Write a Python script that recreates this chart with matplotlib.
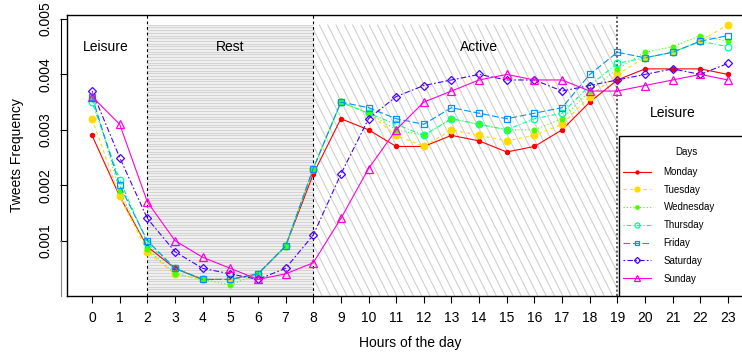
import numpy as np
import matplotlib
matplotlib.use("Agg")
import matplotlib.pyplot as plt
from matplotlib.patches import Rectangle
from matplotlib.collections import LineCollection

plt.rcParams['font.family'] = ['Liberation Sans', 'DejaVu Sans']

# tweet frequency per hour, one list per weekday
hours = list(range(24))
days = ["Monday", "Tuesday", "Wednesday", "Thursday", "Friday", "Saturday", "Sunday"]
monday = [0.0029, 0.0018, 0.00089, 0.0005, 0.0003, 0.0003, 0.0004, 0.0009, 0.0022, 0.0032,
          0.0030, 0.0027, 0.0027, 0.0029, 0.0028, 0.0026, 0.0027, 0.0030, 0.0035, 0.0039,
          0.0041, 0.0041, 0.0041, 0.0040]
tuesday = [0.0032, 0.0018, 0.0008, 0.0004, 0.0003, 0.0003, 0.0004, 0.0009, 0.0023, 0.0035,
           0.0033, 0.0029, 0.0027, 0.0030, 0.0029, 0.0028, 0.0029, 0.0031, 0.0036, 0.0040,
           0.0043, 0.0044, 0.0046, 0.0049]
wednesday = [0.0036, 0.0019, 0.00085, 0.0004, 0.0003, 0.0002, 0.0004, 0.0009, 0.0023, 0.0035,
             0.0033, 0.0030, 0.0029, 0.0032, 0.0031, 0.0030, 0.0030, 0.0032, 0.0037, 0.0041,
             0.0044, 0.0045, 0.0047, 0.0046]
thursday = [0.0035, 0.0021, 0.00095, 0.0005, 0.0003, 0.0003, 0.0004, 0.0009, 0.0023, 0.0035,
            0.0033, 0.0031, 0.0029, 0.0032, 0.0031, 0.0030, 0.0032, 0.0033, 0.0038, 0.0042,
            0.0043, 0.0044, 0.0046, 0.0045]
friday = [0.0036, 0.0020, 0.0010, 0.0005, 0.0003, 0.0003, 0.0004, 0.0009, 0.0023, 0.0035,
          0.0034, 0.0032, 0.0031, 0.0034, 0.0033, 0.0032, 0.0033, 0.0034, 0.0040, 0.0044,
          0.0043, 0.0044, 0.0046, 0.0047]
saturday = [0.0037, 0.0025, 0.0014, 0.0008, 0.0005, 0.0004, 0.0003, 0.0005, 0.0011, 0.0022,
            0.0032, 0.0036, 0.0038, 0.0039, 0.0040, 0.0039, 0.0039, 0.0037, 0.0038, 0.0039,
            0.0040, 0.0041, 0.0040, 0.0042]
sunday = [0.0036, 0.0031, 0.0017, 0.0010, 0.0007, 0.0005, 0.0003, 0.0004, 0.0006, 0.0014,
          0.0023, 0.0030, 0.0035, 0.0037, 0.0039, 0.0040, 0.0039, 0.0039, 0.0037, 0.0037,
          0.0038, 0.0039, 0.0040, 0.0039]
series = [monday, tuesday, wednesday, thursday, friday, saturday, sunday]

# periods of the day
rest = (2, 8)
active = (8, 19)
band_top = 0.0049

# R style rainbow(7) palette, line types and point symbols
colors = ["#FF0000", "#FFDB00", "#49FF00", "#00FF92", "#0092FF", "#4900FF", "#FF00DB"]
styles = ["-", (0, (3, 3)), (0, (1, 2)), (0, (1, 2, 4, 2)), (0, (6, 2.5)), (0, (1.5, 2, 5, 2)), "-"]
markers = ["o", "o", "o", "o", "s", "D", "^"]
msizes = [3.0, 4.8, 3.4, 4.8, 4.4, 4.2, 5.6]
filled = [True, True, True, False, False, False, False]

W, H = 742, 359
fig = plt.figure(figsize=(W / 100, H / 100), dpi=100)
ax_l, ax_r, ax_t, ax_b = 66.6, 753.4, 14.7, 295.7
ax = fig.add_axes([ax_l / W, 1 - ax_b / H, (ax_r - ax_l) / W, (ax_b - ax_t) / H])
ylo, yhi = 0.0000063, 0.005078
ax.set_xlim(-0.92, 23.92)
ax.set_ylim(ylo, yhi)

# rest band: light fill with dense horizontal grey lines
px_per_y = (ax_b - ax_t) / (yhi - ylo)
ax.add_patch(Rectangle((rest[0], ylo), rest[1] - rest[0], band_top - ylo,
                       facecolor="#f0f0f0", lw=0, zorder=0.5))
ys = np.arange(ylo + 1.0 / px_per_y, band_top, 2.7 / px_per_y)
ax.hlines(ys, rest[0], rest[1], colors="#d4d4d4", lw=0.75, zorder=1)

# active band: steep diagonal hatching, built and clipped in pixel space
(X0, Y0), (X1, Y1) = ax.transData.transform([(active[0], ylo), (active[1], band_top)])
slope, step = 2.0, 8.3
segs = []
for b in np.arange(slope * X0 + Y0 + 1, slope * X1 + Y1, slope * step):
    xa, ya = (b - Y1) / slope, Y1
    xb, yb = (b - Y0) / slope, Y0
    if xa < X0:
        xa, ya = X0, b - slope * X0
    if xb > X1:
        xb, yb = X1, b - slope * X1
    if xb <= xa:
        continue
    segs.append(ax.transData.inverted().transform([(xa, ya), (xb, yb)]))
ax.add_collection(LineCollection(segs, colors="#cdcdcd", linewidths=0.75, zorder=1))

# period borders
for x in (2, 8):
    ax.axvline(x, color="black", lw=0.8, ls=(0, (2.5, 2.5)), zorder=2)
ax.axvline(19, color="#555555", lw=1.3, ls=(0, (1.2, 1.2)), zorder=2)

# weekday curves
for d, vals, c, ls, m, ms, f in zip(days, series, colors, styles, markers, msizes, filled):
    ax.plot(hours, vals, color=c, lw=0.8, ls=ls, marker=m, ms=ms,
            mfc=c if f else "none", mec=c, mew=0.9, label=d, zorder=3)

# period names
ax.text(0.5, 0.0045, "Leisure", ha="center", va="center", fontsize=10)
ax.text(5, 0.0045, "Rest", ha="center", va="center", fontsize=10)
ax.text(14, 0.0045, "Active", ha="center", va="center", fontsize=10)
ax.text(21, 0.0033, "Leisure", ha="center", va="center", fontsize=10)

# legend box
ax.add_patch(Rectangle((19.05, ylo), 6, 0.00289 - ylo, facecolor="white",
                       edgecolor="black", lw=1, zorder=4))
ax_w = ax_r - ax_l
leg = ax.legend(title="Days", loc="upper left", frameon=False, fontsize=7,
                title_fontsize=7, mode="expand", borderpad=0, borderaxespad=0,
                bbox_to_anchor=((622.7 - ax_l) / ax_w, (ax_b - 150) / (ax_b - ax_t),
                                126.6 / ax_w, 0.01),
                handlelength=2.9, handletextpad=1.3, labelspacing=0.80, markerscale=0.75)
leg.set_zorder(5)
leg._legend_box.sep = 7

# axes styling
for s in ax.spines.values():
    s.set_linewidth(1.0)
ax.set_xticks(hours)
ax.set_yticks([0.001, 0.002, 0.003, 0.004, 0.005])
ax.set_yticklabels(["0.001", "0.002", "0.003", "0.004", "0.005"], rotation=90, va="center")
ax.tick_params(axis="both", labelsize=10, length=5, width=0.8, direction="out")
ax.tick_params(axis="y", pad=5)
ax.tick_params(axis="x", pad=6)
x_ax = -0.92 - (ax_l - 61) / ((ax_r - ax_l) / 24.84)
ax.plot([x_ax, x_ax], [0.005, 0.001], color="black", lw=0.8, clip_on=False)
ax.plot([x_ax, x_ax], [0.001, ylo], color="#888888", lw=0.8, clip_on=False)

fig.text(410 / W, 1 - 343 / H, "Hours of the day", ha="center", va="center", fontsize=10)
fig.text(17.3 / W, 1 - 155 / H, "Tweets Frequency", ha="center", va="center",
         rotation=90, fontsize=10)

fig.savefig("out.png", dpi=100)
